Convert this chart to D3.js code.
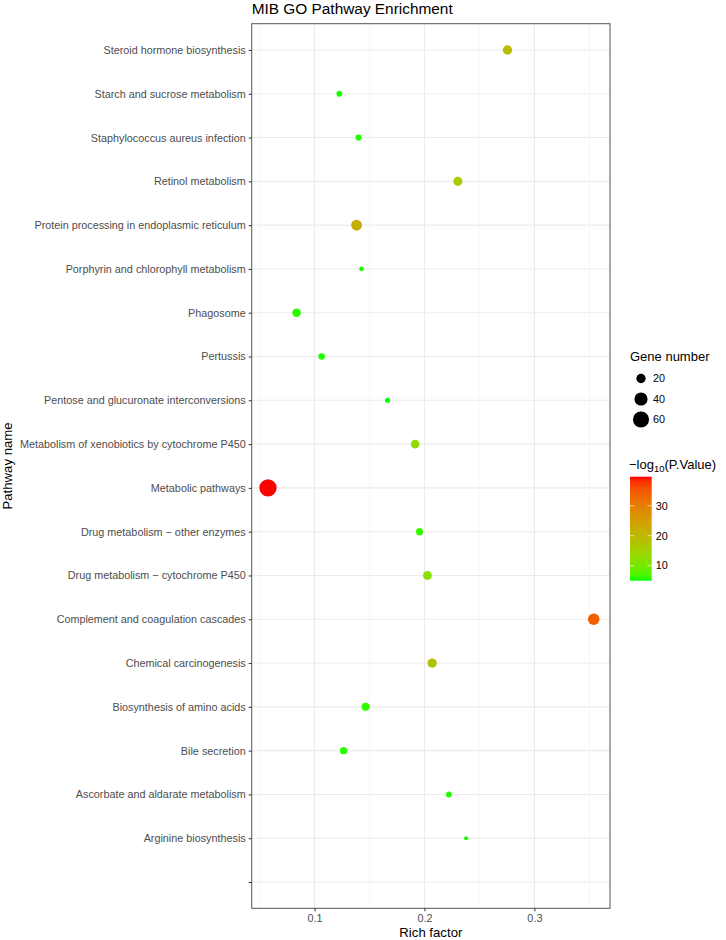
<!DOCTYPE html>
<html>
<head>
<meta charset="utf-8">
<script src="https://cdn.jsdelivr.net/npm/d3@7"></script>
<style>
  body { margin: 0; background: #fff; }
  svg { font-family: "Liberation Sans", Arial, sans-serif; }
</style>
</head>
<body>
<svg id="chart" width="726" height="940"></svg>
<script>
// pathways, top to bottom; the last one is the empty level at the bottom
const pathways = [
  'Steroid hormone biosynthesis',
  'Starch and sucrose metabolism',
  'Staphylococcus aureus infection',
  'Retinol metabolism',
  'Protein processing in endoplasmic reticulum',
  'Porphyrin and chlorophyll metabolism',
  'Phagosome',
  'Pertussis',
  'Pentose and glucuronate interconversions',
  'Metabolism of xenobiotics by cytochrome P450',
  'Metabolic pathways',
  'Drug metabolism \u2212 other enzymes',
  'Drug metabolism \u2212 cytochrome P450',
  'Complement and coagulation cascades',
  'Chemical carcinogenesis',
  'Biosynthesis of amino acids',
  'Bile secretion',
  'Ascorbate and aldarate metabolism',
  'Arginine biosynthesis',
  ''
];
const richFactor = [0.2755, 0.1225, 0.140, 0.2304, 0.1382, 0.1427, 0.0836, 0.1064, 0.1664, 0.1915,
  0.0576, 0.1955, 0.2027, 0.354, 0.2070, 0.1464, 0.1264, 0.2222, 0.2379];
const geneNumber = [20, 8, 9, 19, 27, 5, 17, 10, 6, 17, 69, 12, 18, 31, 20, 15, 12, 8, 4];
const negLogP = [19, 5.3, 5.5, 16, 22, 5.4, 5.6, 5.3, 5, 12.5, 39.7, 6, 11.5, 34, 18, 5.8, 5.5, 5.4, 5.2];
const xTicks = [0.1, 0.2, 0.3];
const sizeBreaks = [20, 40, 60];
const colorBreaks = [10, 20, 30];

const points = richFactor.map((r, i) => ({
  pathway: pathways[i], rich: r, genes: geneNumber[i], p: negLogP[i]
}));

const svg = d3.select('#chart');
const panel = { left: 251.7, right: 610, top: 23.7, bottom: 908.3 };

const xExtent = d3.extent(richFactor);
const xPad = (xExtent[1] - xExtent[0]) * 0.05;
const xScale = d3.scaleLinear()
  .domain([xExtent[0] - xPad, xExtent[1] + xPad])
  .range([panel.left, panel.right]);

const yScale = d3.scalePoint()
  .domain(pathways)
  .range([panel.top, panel.bottom])
  .padding(0.6);

const rScale = d3.scaleSqrt().domain([0, 70]).range([0, 8.7]);

const pExtent = d3.extent(negLogP);
const colorScale = d3.scaleLinear()
  .domain(pExtent)
  .range(['#00ff00', '#ff0000'])
  .interpolate(d3.interpolateLab);

// grid
const grid = svg.append('g');
const minorTicks = [0.05, 0.15, 0.25, 0.35];
grid.selectAll('line.minor')
  .data(minorTicks)
  .join('line')
  .attr('x1', d => xScale(d)).attr('x2', d => xScale(d))
  .attr('y1', panel.top).attr('y2', panel.bottom)
  .attr('stroke', '#f2f2f2').attr('stroke-width', 0.6);
grid.selectAll('line.vmajor')
  .data(xTicks)
  .join('line')
  .attr('x1', d => xScale(d)).attr('x2', d => xScale(d))
  .attr('y1', panel.top).attr('y2', panel.bottom)
  .attr('stroke', '#ebebeb').attr('stroke-width', 1.1);
grid.selectAll('line.hmajor')
  .data(pathways)
  .join('line')
  .attr('x1', panel.left).attr('x2', panel.right)
  .attr('y1', d => yScale(d)).attr('y2', d => yScale(d))
  .attr('stroke', '#ebebeb').attr('stroke-width', 1.1);

// points
svg.append('g')
  .selectAll('circle')
  .data(points)
  .join('circle')
  .attr('cx', d => xScale(d.rich))
  .attr('cy', d => yScale(d.pathway))
  .attr('r', d => rScale(d.genes))
  .attr('fill', d => colorScale(d.p));

// border
svg.append('rect')
  .attr('x', panel.left).attr('y', panel.top)
  .attr('width', panel.right - panel.left)
  .attr('height', panel.bottom - panel.top)
  .attr('fill', 'none').attr('stroke', '#555').attr('stroke-width', 1);

// axes
const xAxis = svg.append('g')
  .attr('transform', `translate(0,${panel.bottom})`)
  .call(d3.axisBottom(xScale).tickValues(xTicks).tickSize(3).tickPadding(3).tickFormat(d3.format('.1f')));
const yAxis = svg.append('g')
  .attr('transform', `translate(${panel.left},0)`)
  .call(d3.axisLeft(yScale).tickSize(3).tickPadding(3));
[xAxis, yAxis].forEach(ax => {
  ax.select('.domain').remove();
  ax.selectAll('.tick line').attr('stroke', '#333').attr('stroke-width', 1);
  ax.selectAll('.tick text')
    .attr('fill', '#4d4d4d')
    .style('font-family', '"Liberation Sans", Arial, sans-serif')
    .style('font-size', '10.8px');
});

// titles
svg.append('text')
  .attr('x', panel.left).attr('y', 14)
  .style('font-size', '15.4px')
  .text('MIB GO Pathway Enrichment');
svg.append('text')
  .attr('x', (panel.left + panel.right) / 2).attr('y', 937)
  .attr('text-anchor', 'middle')
  .style('font-size', '13.2px')
  .text('Rich factor');
svg.append('text')
  .attr('transform', `translate(12,${(panel.top + panel.bottom) / 2}) rotate(-90)`)
  .attr('text-anchor', 'middle')
  .style('font-size', '13.2px')
  .text('Pathway name');

// size legend
const sizeLegend = svg.append('g');
sizeLegend.append('text')
  .attr('x', 630).attr('y', 361)
  .style('font-size', '13px')
  .text('Gene number');
const sizeItems = sizeLegend.selectAll('g.item')
  .data(sizeBreaks)
  .join('g')
  .attr('transform', (d, i) => `translate(641,${378.5 + i * 20.5})`);
sizeItems.append('circle')
  .attr('r', d => rScale(d))
  .attr('fill', '#000');
sizeItems.append('text')
  .attr('x', 12).attr('dy', '0.35em')
  .style('font-size', '10.8px')
  .text(d => d);

// colour legend
const barTop = 476.7, barBottom = 580.7, barLeft = 630, barW = 21.7;
const barScale = d3.scaleLinear().domain(pExtent).range([barBottom, barTop]);
const title = svg.append('text')
  .attr('x', 629).attr('y', 469)
  .style('font-size', '13px');
title.append('tspan').text('\u2212log');
title.append('tspan').attr('dy', 3).style('font-size', '9.5px').text('10');
title.append('tspan').attr('dy', -3).text('(P.Value)');

const defs = svg.append('defs');
const grad = defs.append('linearGradient')
  .attr('id', 'pgrad')
  .attr('x1', 0).attr('x2', 0).attr('y1', 1).attr('y2', 0);
d3.range(0, 1.0001, 0.05).forEach(t => {
  grad.append('stop')
    .attr('offset', t)
    .attr('stop-color', colorScale(pExtent[0] + t * (pExtent[1] - pExtent[0])));
});
svg.append('rect')
  .attr('x', barLeft).attr('y', barTop)
  .attr('width', barW).attr('height', barBottom - barTop)
  .attr('fill', 'url(#pgrad)');
const cTicks = svg.append('g').selectAll('g')
  .data(colorBreaks)
  .join('g')
  .attr('transform', d => `translate(0,${barScale(d)})`);
cTicks.append('line')
  .attr('x1', barLeft).attr('x2', barLeft + 4.3)
  .attr('stroke', '#fff').attr('stroke-width', 0.8).attr('opacity', 0.8);
cTicks.append('line')
  .attr('x1', barLeft + barW - 4.3).attr('x2', barLeft + barW)
  .attr('stroke', '#fff').attr('stroke-width', 0.8).attr('opacity', 0.8);
cTicks.append('text')
  .attr('x', barLeft + barW + 4).attr('dy', '0.35em')
  .style('font-size', '10.8px')
  .text(d => d);
</script>
</body>
</html>
